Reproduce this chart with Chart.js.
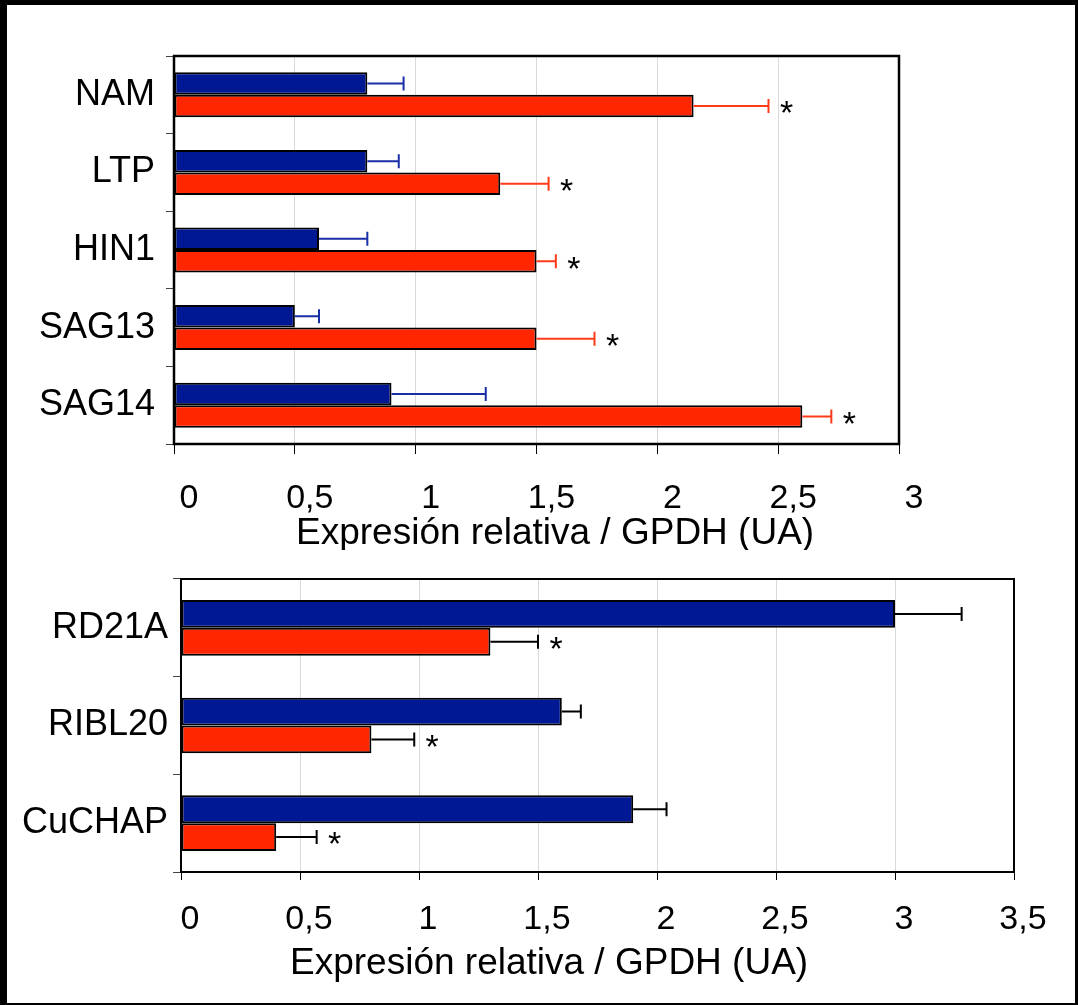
<!DOCTYPE html>
<html>
<head>
<meta charset="utf-8">
<script src="https://cdn.jsdelivr.net/npm/chart.js@4.4.1/dist/chart.umd.min.js"></script>
<style>
  body { margin: 0; background: #fff; }
  #frame {
    position: absolute; left: 0; top: 0;
    width: 1078px; height: 1005px; box-sizing: border-box;
    border-style: solid; border-color: #000;
    border-width: 5px 3px 2px 7px;
    background: #fff;
  }
  canvas { position: absolute; left: 0; }
  #topChart { top: 0; }
  #bottomChart { top: 550px; }
</style>
</head>
<body>
<div id="frame"></div>
<canvas id="topChart" width="1078" height="550"></canvas>
<canvas id="bottomChart" width="1078" height="455"></canvas>
<script>
// top panel
const topCats = ['NAM', 'LTP', 'HIN1', 'SAG13', 'SAG14'];
const topBlue = [0.8, 0.8, 0.6, 0.5, 0.9];
const topBlueErr = [0.15, 0.13, 0.2, 0.1, 0.39];
const topRed = [2.15, 1.35, 1.5, 1.5, 2.6];
const topRedErr = [0.31, 0.2, 0.08, 0.24, 0.12];
const topTicks = ['0', '0,5', '1', '1,5', '2', '2,5', '3'];

// bottom panel
const bottomCats = ['RD21A', 'RIBL20', 'CuCHAP'];
const bottomBlue = [3.0, 1.6, 1.9];
const bottomBlueErr = [0.28, 0.08, 0.14];
const bottomRed = [1.3, 0.8, 0.4];
const bottomRedErr = [0.2, 0.18, 0.17];
const bottomTicks = ['0', '0,5', '1', '1,5', '2', '2,5', '3', '3,5'];

// which bars get a star (red series)
const topStars = [true, true, true, true, true];
const bottomStars = [true, true, true];

const axisTitle = 'Expresión relativa / GPDH (UA)';
const FONT = "'Liberation Sans', Arial, sans-serif";
const BLUE = '#001894';
const RED = '#ff2600';

// frame around plot area, error bars, stars, axis caption
const extras = {
    id: 'extras',
    afterDatasetsDraw(chart, args, opts) {
        const ctx = chart.ctx;
        const area = chart.chartArea;
        const xs = chart.scales.x;

        ctx.save();
        ctx.strokeStyle = '#000';
        ctx.lineWidth = opts.frameWidth;
        ctx.strokeRect(area.left, area.top, area.right - area.left, area.bottom - area.top);

        chart.data.datasets.forEach((ds, i) => {
            const meta = chart.getDatasetMeta(i);
            const errs = opts.errors[i];
            meta.data.forEach((bar, j) => {
                const x0 = bar.x;
                const x1 = xs.getPixelForValue(ds.data[j] + errs[j]);
                ctx.strokeStyle = opts.errColors[i];
                ctx.lineWidth = 2;
                ctx.beginPath();
                ctx.moveTo(x0, bar.y);
                ctx.lineTo(x1, bar.y);
                ctx.moveTo(x1, bar.y - 7);
                ctx.lineTo(x1, bar.y + 7);
                ctx.stroke();

                if (i === 1 && opts.stars[j]) {
                    ctx.fillStyle = '#000';
                    ctx.font = '34px ' + FONT;
                    ctx.textAlign = 'center';
                    ctx.textBaseline = 'middle';
                    ctx.fillText('*', x1 + 18, bar.y + 9);
                }
            });
        });

        ctx.fillStyle = '#000';
        ctx.font = '37px ' + FONT;
        ctx.textAlign = 'left';
        ctx.textBaseline = 'alphabetic';
        ctx.fillText(axisTitle, opts.titleX, opts.titleY);
        ctx.restore();
    }
};

function makeChart(id, cats, blue, red, blueErr, redErr, ticks, cfg) {
    const ctx = document.getElementById(id).getContext('2d');
    return new Chart(ctx, {
        type: 'bar',
        data: {
            labels: cats,
            datasets: [
                {
                    data: blue,
                    backgroundColor: BLUE,
                    borderColor: '#000',
                    borderWidth: 2,
                    borderSkipped: false,
                    categoryPercentage: cfg.catPct,
                    barPercentage: 1
                },
                {
                    data: red,
                    backgroundColor: RED,
                    borderColor: '#000',
                    borderWidth: 2,
                    borderSkipped: false,
                    categoryPercentage: cfg.catPct,
                    barPercentage: 1
                }
            ]
        },
        options: {
            indexAxis: 'y',
            responsive: false,
            animation: false,
            devicePixelRatio: 1,
            layout: {
                padding: { left: 0, top: cfg.padTop, right: cfg.padRight, bottom: 0 }
            },
            plugins: {
                legend: { display: false },
                tooltip: { enabled: false },
                extras: {
                    errors: [blueErr, redErr],
                    errColors: cfg.errColors,
                    stars: cfg.stars,
                    frameWidth: cfg.frameWidth,
                    titleX: cfg.titleX,
                    titleY: cfg.titleY
                }
            },
            scales: {
                x: {
                    min: 0,
                    max: cfg.max,
                    afterBuildTicks: (scale) => {
                        scale.ticks = ticks.map((t, i) => ({ value: i * 0.5 }));
                    },
                    afterFit: (scale) => { scale.height = cfg.xHeight; },
                    border: { display: false },
                    grid: {
                        color: '#d9d9d9',
                        lineWidth: 1,
                        tickColor: '#000',
                        tickLength: cfg.xTickLen
                    },
                    ticks: {
                        callback: (v, i) => ticks[i],
                        font: { family: FONT, size: 34 },
                        color: '#000',
                        padding: cfg.xPad,
                        labelOffset: cfg.labelOffset,
                        maxRotation: 0,
                        autoSkip: false
                    }
                },
                y: {
                    afterFit: (scale) => { scale.width = cfg.yWidth; },
                    border: { display: false },
                    grid: {
                        drawOnChartArea: false,
                        tickColor: '#444',
                        tickLength: 8
                    },
                    ticks: {
                        font: { family: FONT, size: 36 },
                        color: '#000',
                        padding: cfg.yPad
                    }
                }
            }
        },
        plugins: [extras]
    });
}

makeChart('topChart', topCats, topBlue, topRed, topBlueErr, topRedErr, topTicks, {
    max: 3,
    catPct: 0.58,
    padTop: 56,
    padRight: 179,
    yWidth: 174,
    xHeight: 106,
    xTickLen: 10,
    xPad: 24,
    labelOffset: 15,
    yPad: 11,
    frameWidth: 2.5,
    errColors: ['#1a2fa6', '#ff3a1a'],
    stars: topStars,
    titleX: 296,
    titleY: 544
});

makeChart('bottomChart', bottomCats, bottomBlue, bottomRed, bottomBlueErr, bottomRedErr, bottomTicks, {
    max: 3.5,
    catPct: 0.57,
    padTop: 29,
    padRight: 64,
    yWidth: 181,
    xHeight: 133,
    xTickLen: 8,
    xPad: 19,
    labelOffset: 9,
    yPad: 5,
    frameWidth: 2,
    errColors: ['#000', '#000'],
    stars: bottomStars,
    titleX: 290,
    titleY: 424
});
</script>
</body>
</html>
